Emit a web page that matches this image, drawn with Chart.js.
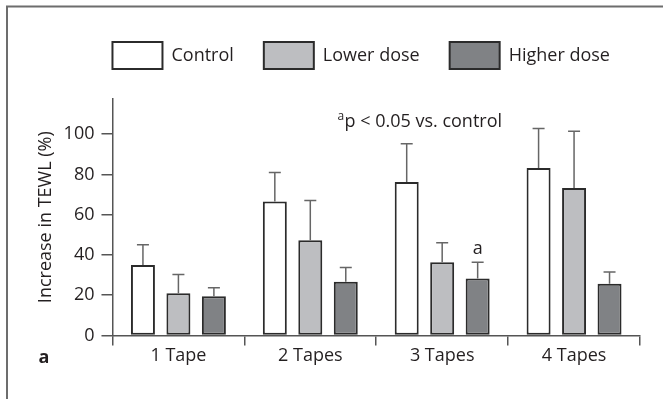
<!DOCTYPE html>
<html>
<head>
<meta charset="utf-8">
<script src="https://cdn.jsdelivr.net/npm/chart.js@4.4.1/dist/chart.umd.min.js"></script>
<style>
  html, body { margin:0; padding:0; background:#fff; }
  canvas { display:block; }
</style>
</head>
<body>
<canvas id="chart" width="663" height="399"></canvas>
<script>
/* TEWL increase per tape-stripping count, mean + upper SD */
const categories  = ['1 Tape', '2 Tapes', '3 Tapes', '4 Tapes'];
const controlMean = [35, 66.5, 76.2, 83.2];
const controlErr  = [10, 14.5, 19.1, 19.6];
const lowerMean   = [21, 47.3, 36.3, 73.3];
const lowerErr    = [9.3, 19.7, 9.7, 28.2];
const higherMean  = [19.5, 26.7, 28.3, 25.7];
const higherErr   = [4.2, 7, 8, 5.8];
const higherSig   = ['', '', 'a', ''];
const yTickValues = [0, 20, 40, 60, 80, 100];

const FONT = "'Open Sans', 'DejaVu Sans', sans-serif";
const INK = '#231f20';
const AXIS = '#555';

const errs = [controlErr, lowerErr, higherErr];
const sigs = [null, null, higherSig];

// thin frame lines at top and left edge of the figure
const framePlugin = {
  id: 'frame',
  beforeDraw(chart){
    const ctx = chart.ctx;
    ctx.save();
    ctx.strokeStyle = '#6d6d6d';
    ctx.lineWidth = 2;
    ctx.beginPath();
    ctx.moveTo(7, 399); ctx.lineTo(7, 6.5); ctx.lineTo(663, 6.5);
    ctx.stroke();
    ctx.restore();
  }
};

// extra room under the legend + line it up with the left of the plot
const legendShift = {
  id: 'legendShift',
  beforeLayout(chart){
    const lg = chart.legend;
    if(lg && !lg._padded){
      const fit = lg.fit;
      lg.fit = function(){ fit.call(this); this.height += 20; };
      lg._padded = true;
    }
  },
  afterLayout(chart){
    const lg = chart.legend;
    const dx = chart.chartArea.left - (lg.left + lg.options.labels.padding);
    lg.left += dx; lg.right += dx;
  }
};

const errorBars = {
  id: 'errorBars',
  afterDatasetsDraw(chart){
    const ctx = chart.ctx, y = chart.scales.y;
    ctx.save();
    chart.data.datasets.forEach((ds, di) => {
      const meta = chart.getDatasetMeta(di);
      meta.data.forEach((bar, i) => {
        const top = y.getPixelForValue(ds.data[i] + errs[di][i]);
        ctx.strokeStyle = '#666';
        ctx.lineWidth = 1.5;
        ctx.beginPath();
        ctx.moveTo(bar.x, bar.y);
        ctx.lineTo(bar.x, top);
        ctx.moveTo(bar.x - 6, top);
        ctx.lineTo(bar.x + 6, top);
        ctx.stroke();
        if(sigs[di] && sigs[di][i]){
          ctx.fillStyle = INK;
          ctx.font = `18px ${FONT}`;
          ctx.textAlign = 'center';
          ctx.textBaseline = 'alphabetic';
          ctx.fillText(sigs[di][i], bar.x, top - 8);
        }
      });
    });
    ctx.restore();
  }
};

const notes = {
  id: 'notes',
  afterDraw(chart){
    const ctx = chart.ctx, a = chart.chartArea;
    ctx.save();
    ctx.fillStyle = INK;
    ctx.textBaseline = 'alphabetic';
    ctx.textAlign = 'left';
    // significance note
    const nx = a.left + 225, ny = a.top + 28;
    ctx.font = `12px ${FONT}`;
    ctx.fillText('a', nx, ny - 7);
    ctx.font = `18px ${FONT}`;
    ctx.fillText('p < 0.05 vs. control', nx + 7, ny);
    // panel letter
    ctx.font = `bold 18px ${FONT}`;
    ctx.fillText('a', a.left - 74, a.bottom + 28);
    ctx.restore();
  }
};

const barStyle = { borderColor:'#2b2b2b', borderWidth:2, borderSkipped:false,
                   categoryPercentage:0.807, barPercentage:0.676 };

new Chart(document.getElementById('chart'), {
  type: 'bar',
  data: {
    labels: categories,
    datasets: [
      { label:'Control',     data:controlMean, backgroundColor:'#ffffff', ...barStyle },
      { label:'Lower dose',  data:lowerMean,   backgroundColor:'#bdbec1', ...barStyle },
      { label:'Higher dose', data:higherMean,  backgroundColor:'#808285', ...barStyle }
    ]
  },
  options: {
    responsive: false,
    animation: false,
    layout: { padding: { top:12, left:31, right:23, bottom:32 } },
    plugins: {
      legend: {
        position:'top', align:'start',
        labels: { boxWidth:50, boxHeight:27, padding:30, color:INK, font:{ family:FONT, size:18 } }
      },
      tooltip: { enabled:false }
    },
    scales: {
      x: {
        grid: { drawOnChartArea:false, drawTicks:true, tickLength:10, color:AXIS, lineWidth:1.5, offset:true },
        border: { color:AXIS, width:1.5 },
        ticks: { color:INK, padding:0, font:{ family:FONT, size:18 } }
      },
      y: {
        min:0, max:117.5,
        afterBuildTicks: s => { s.ticks = yTickValues.map(v => ({ value:v })); },
        grid: { drawOnChartArea:false, drawTicks:true, tickLength:11, color:AXIS, lineWidth:1.5 },
        border: { color:AXIS, width:1.5 },
        ticks: { color:INK, padding:7, font:{ family:FONT, size:18 } },
        title: { display:true, text:'Increase in TEWL (%)', color:INK, padding:{ top:4, bottom:0 },
                 font:{ family:FONT, size:18 } }
      }
    }
  },
  plugins: [framePlugin, legendShift, errorBars, notes]
});
</script>
</body>
</html>
